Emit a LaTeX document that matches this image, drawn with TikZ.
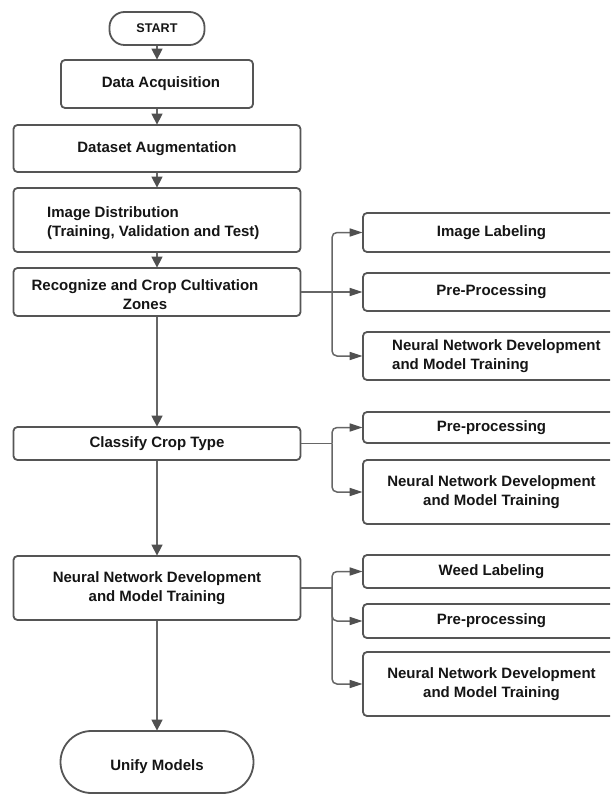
\documentclass[tikz,border=0pt]{standalone}
\usepackage{fontspec}
\setmainfont{Liberation Sans}
\usetikzlibrary{arrows.meta}
\definecolor{edge}{HTML}{555555}
\definecolor{wire}{HTML}{666666}
\definecolor{tip}{HTML}{505050}
\definecolor{ink}{HTML}{151515}
\tikzset{
  box/.style={draw=edge, line width=1.8pt, rounded corners=4pt, fill=white,
    inner sep=0pt, align=center, text=ink,
    font=\fontsize{15}{19}\selectfont\bfseries},
  term/.style={box, rounded corners=15pt},
  label text/.style={inner sep=0pt, text=ink, font=\fontsize{15}{19}\selectfont\bfseries},
  wire/.style={draw=wire, line width=1.5pt},
  arr/.style={wire, -{Triangle[length=11pt,width=11pt,color=tip]}, shorten >=-0.5pt},
  branch/.style={wire, -{Triangle[length=13pt,width=8pt,color=tip]}, shorten >=-0.5pt,
    rounded corners=5pt},
}
\begin{document}
\begin{tikzpicture}[x=1pt, y=-1pt]
\path[use as bounding box, fill=white] (0,0) rectangle (610,794);
\clip (0,0) rectangle (610,794);

% main column
\node[term, minimum width=95pt, minimum height=33pt,
      font=\fontsize{12.6}{15}\selectfont\bfseries] (start) at (157,28.5) {START};
\node[box, minimum width=192pt, minimum height=48pt] (acq) at (157,84) {\hspace*{8pt}Data Acquisition};
\node[box, minimum width=287pt, minimum height=47pt] (aug) at (157,148.5) {Dataset Augmentation};
\node[box, minimum width=287pt, minimum height=64pt] (dist) at (157,220) {};
\node[label text, anchor=west, align=left] (dist-t) at (47,223)
  {Image Distribution\\(Training, Validation and Test)};
\node[box, minimum width=287pt, minimum height=48pt] (zones) at (157,292) {};
\node[label text, align=center] (zones-t) at (145,295)
  {Recognize and Crop Cultivation\\Zones};
\node[box, minimum width=287pt, minimum height=33pt] (crop) at (157,443.5) {\raisebox{-2pt}{Classify Crop Type}};
\node[box, minimum width=287pt, minimum height=64pt] (train) at (157,588)
  {Neural Network Development\\and Model Training};
\node[term, rounded corners=31pt, minimum width=193pt, minimum height=62pt] (unify) at (157,762) {};
\node[label text] (unify-t) at (157,767) {Unify Models};

% right column
\node[box, minimum width=257pt, minimum height=39pt] (lab1) at (491.5,232.5) {Image Labeling};
\node[box, minimum width=257pt, minimum height=38pt] (pre1) at (491.5,292) {Pre-Processing};
\node[box, minimum width=257pt, minimum height=48pt] (net1) at (491.5,356) {};
\node[label text, anchor=west, align=left] (net1-t) at (392,356)
  {Neural Network Development\\and Model Training};
\node[box, minimum width=257pt, minimum height=31pt] (pre2) at (491.5,427.5) {Pre-processing};
\node[box, minimum width=257pt, minimum height=64pt] (net2) at (491.5,492)
  {Neural Network Development\\and Model Training};
\node[box, minimum width=257pt, minimum height=33pt] (lab3) at (491.5,571.5) {Weed Labeling};
\node[box, minimum width=257pt, minimum height=34pt] (pre3) at (491.5,621) {Pre-processing};
\node[box, minimum width=257pt, minimum height=64pt] (net3) at (491.5,684)
  {Neural Network Development\\and Model Training};

% main flow
\draw[arr] (start) -- (acq);
\draw[arr] (acq) -- (aug);
\draw[arr] (aug) -- (dist);
\draw[arr] (dist) -- (zones);
\draw[arr] (zones) -- (crop);
\draw[arr] (crop) -- (train);
\draw[arr] (train) -- (unify);

% branches
\coordinate (j1) at (332,292);
\coordinate (j2) at (332,443.5);
\coordinate (j3) at (332,588);
\draw[wire] (zones.east) -- (j1);
\draw[branch] (j1) |- (lab1.west);
\draw[branch] (j1) -- (pre1.west);
\draw[branch] (j1) |- (net1.west);
\draw[wire] (crop.east) -- (j2);
\draw[branch] (j2) |- (pre2.west);
\draw[branch] (j2) |- (net2.west);
\draw[wire] (train.east) -- (j3);
\draw[branch] (j3) |- (lab3.west);
\draw[branch] (j3) |- (pre3.west);
\draw[branch] (j3) |- (net3.west);
\end{tikzpicture}
\end{document}
